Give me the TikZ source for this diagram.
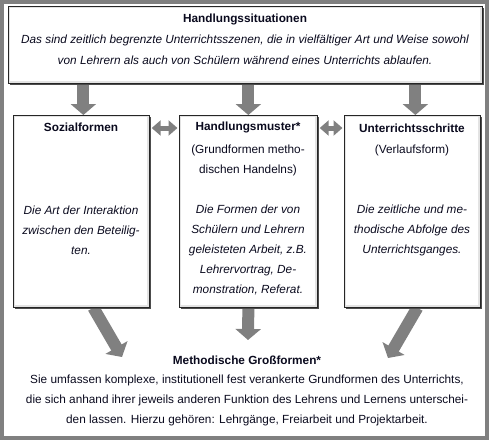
\documentclass[tikz,border=0pt]{standalone}
\usepackage{fontspec}
\setmainfont{Liberation Sans}
\usetikzlibrary{arrows.meta,shadows,calc,backgrounds}
\definecolor{arrowgray}{RGB}{128,128,128}
\definecolor{framegray}{RGB}{128,128,128}
\definecolor{txtcol}{RGB}{10,10,30}
\begin{document}
\begin{tikzpicture}[x=1pt,y=-1pt,
  box/.style={draw=black!85, line width=0.7pt, fill=white, anchor=north west, inner sep=0pt,
    drop shadow={shadow xshift=2pt, shadow yshift=-2pt, fill=black!70, opacity=1}},
  inner/.style={draw=gray!22, line width=1.6pt},
  txt/.style={inner sep=0pt, align=center, text=txtcol, font=\fontsize{11.8}{20}\selectfont},
  ttl/.style={txt, font=\fontsize{11.8}{20}\selectfont\bfseries},
  body/.style={txt, font=\fontsize{11.8}{20}\selectfont\itshape},
  fatarrow/.style={draw=arrowgray, line width=12pt, -{Triangle[width=25pt,length=11pt]}},
  dblarrow/.style={draw=arrowgray, line width=5pt, {Triangle[width=15pt,length=9pt]}-{Triangle[width=15pt,length=9pt]}}
]
\useasboundingbox (0,0) rectangle (489,440);

% boxes
\node[box, minimum width=474pt, minimum height=77pt] (top) at (8,6) {};
\node[box, minimum width=136pt, minimum height=192pt] (soz) at (13,115) {};
\node[box, minimum width=138pt, minimum height=192pt] (hm) at (179,115) {};
\node[box, minimum width=136pt, minimum height=192pt] (ur) at (344,115) {};
\foreach \b in {top,soz,hm,ur}{
  \draw[inner] ([shift={(1.6pt,-1.6pt)}]\b.north west) rectangle ([shift={(-1.6pt,1.6pt)}]\b.south east);
}

% texts
\node[ttl] (toptitle) at (245,19) {Handlungssituationen};
\node[body, font=\fontsize{11.8}{21}\selectfont\itshape] (toptext) at (245,49.5)
  {Das sind zeitlich begrenzte Unterrichtsszenen, die in vielfältiger Art und Weise sowohl\\
   von Lehrern als auch von Schülern während eines Unterrichts ablaufen.};

\node[ttl] (soztitle) at (81,127) {Sozialformen};
\node[body] (soztext) at (81,230) {Die Art der Interaktion\\zwischen den Beteilig-\\ten.};

\node[ttl] (hmtitle) at (248,127) {Handlungsmuster*};
\node[txt, font=\fontsize{11.8}{19.5}\selectfont] (hmsub) at (248,160.5) {(Grundformen metho-\\dischen Handelns)};
\node[body] (hmtext) at (248,250) {Die Formen der von\\Schülern und Lehrern\\geleisteten Arbeit, z.B.\\Lehrervortrag, De-\\monstration, Referat.};

\node[ttl] (urtitle) at (412,128) {Unterrichtsschritte};
\node[txt] (ursub) at (412,150) {(Verlaufsform)};
\node[body] (urtext) at (412,230) {Die zeitliche und me-\\thodische Abfolge des\\Unterrichtsganges.};

\node[ttl] (bottitle) at (247,360) {Methodische Großformen*};
\node[txt] (bottext) at (247,400) {Sie umfassen komplexe, institutionell fest verankerte Grundformen des Unterrichts,\\
  die sich anhand ihrer jeweils anderen Funktion des Lehrens und Lernens unterschei-\\
  den lassen. Hierzu gehören: Lehrgänge, Freiarbeit und Projektarbeit.};

\coordinate (e1) at (122,357);
\coordinate (e2) at (248,340);
\coordinate (e3) at (388,358);

\begin{scope}[on background layer]
  \draw[framegray, line width=3.6pt] (1.8,1.8) rectangle (487.2,438.2);
  \draw[fatarrow] ($(top.south -| soz.north)+(2,0)$) -- ($(soz.north)+(2,0)$);
  \draw[fatarrow] (top.south -| hm.north) -- (hm.north);
  \draw[fatarrow] ($(top.south -| ur.north)+(3,0)$) -- ($(ur.north)+(3,0)$);
  \draw[fatarrow] ($(soz.south)+(12,0)$) -- (e1);
  \draw[fatarrow] (hm.south) -- (e2);
  \draw[fatarrow] ($(ur.south)+(5,0)$) -- (e3);
\end{scope}
\draw[dblarrow] ([shift={(2pt,-13pt)}]soz.north east) -- ([shift={(-1.5pt,-13pt)}]hm.north west);
\draw[dblarrow] ([shift={(2pt,-13pt)}]hm.north east) -- ([shift={(-1.5pt,-13pt)}]ur.north west);
\end{tikzpicture}
\end{document}
